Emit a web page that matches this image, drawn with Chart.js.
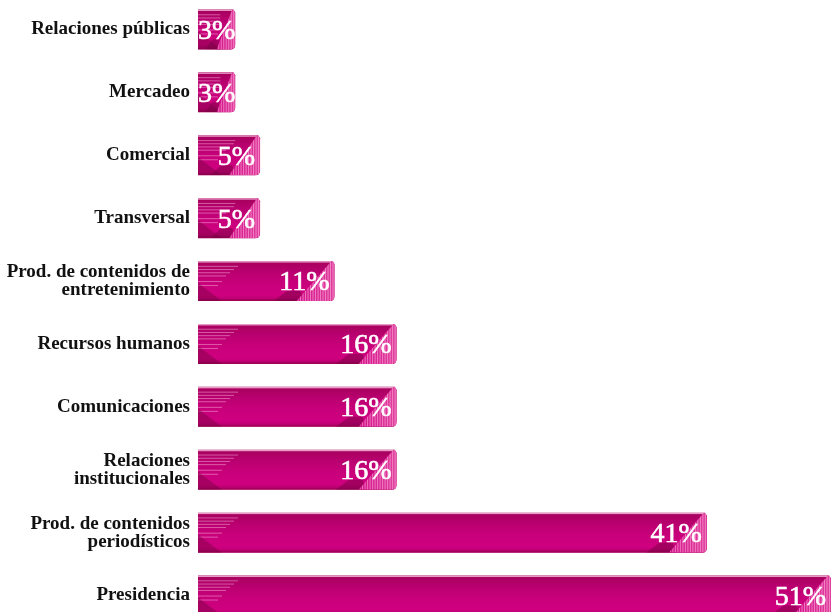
<!DOCTYPE html>
<html>
<head>
<meta charset="utf-8">
<script src="https://cdn.jsdelivr.net/npm/chart.js@4"></script>
<style>
  html, body { margin: 0; padding: 0; background: #fff; overflow: hidden; }
  #wrap { position: absolute; left: 0; top: -11px; width: 831px; height: 647px; }
</style>
</head>
<body>
<div id="wrap"><canvas id="areas"></canvas></div>
<script>
// Áreas y porcentaje
const areas = [
  "Relaciones públicas",
  "Mercadeo",
  "Comercial",
  "Transversal",
  ["Prod. de contenidos de", "entretenimiento"],
  "Recursos humanos",
  "Comunicaciones",
  ["Relaciones", "institucionales"],
  ["Prod. de contenidos", "periodísticos"],
  "Presidencia"
];
const porcentajes = [3, 3, 5, 5, 11, 16, 16, 16, 41, 51];

// Barra con textura de cinta doblada y etiqueta de valor
const cinta = {
  id: 'cinta',
  afterDatasetsDraw(chart) {
    const ctx = chart.ctx;
    const meta = chart.getDatasetMeta(0);
    meta.data.forEach((bar, i) => {
      const left = bar.base, right = bar.x;
      const h = bar.height, top = bar.y - h / 2, bottom = bar.y + h / 2;
      const w = right - left;
      ctx.save();

      // cuerpo con esquina inferior derecha redondeada
      ctx.beginPath();
      ctx.moveTo(left, top);
      ctx.lineTo(right - 2, top);
      ctx.lineTo(right, top + 3);
      ctx.lineTo(right, bottom - 5);
      ctx.quadraticCurveTo(right, bottom, right - 5, bottom);
      ctx.lineTo(left, bottom);
      ctx.closePath();
      const g = ctx.createLinearGradient(0, top, 0, bottom);
      g.addColorStop(0, '#a5005c');
      g.addColorStop(0.3, '#bb0071');
      g.addColorStop(0.55, '#c8007a');
      g.addColorStop(0.85, '#cf0080');
      g.addColorStop(1, '#b3006a');
      ctx.fillStyle = g;
      ctx.fill();
      ctx.clip();

      // filo superior claro
      ctx.fillStyle = 'rgba(240,170,210,0.9)';
      ctx.fillRect(left, top, w, 1.5);
      ctx.fillStyle = 'rgba(150,0,80,0.6)';
      ctx.fillRect(left, bottom - 2, w, 2);

      // rayas del extremo izquierdo
      ctx.fillStyle = 'rgba(255,200,230,0.45)';
      [0.12, 0.2, 0.28, 0.36, 0.5, 0.6].forEach((f, k) => {
        const len = Math.min(w * 0.6, 40 - k * 4);
        ctx.fillRect(left, top + h * f, len, 1);
      });

      // sombra inferior izquierda
      ctx.beginPath();
      ctx.moveTo(left, top + h * 0.55);
      ctx.lineTo(left + h * 0.6, bottom);
      ctx.lineTo(left, bottom);
      ctx.closePath();
      ctx.fillStyle = 'rgba(120,0,65,0.45)';
      ctx.fill();

      // pliegue del extremo derecho
      const fw = Math.min(h * 0.95, w * 0.5);
      const fx = right - fw;
      ctx.beginPath();
      ctx.moveTo(fx - fw * 0.6, bottom);
      ctx.lineTo(fx - fw * 0.25, bottom - h * 0.25);
      ctx.lineTo(fx + fw * 0.1, bottom - h * 0.25);
      ctx.lineTo(fx + fw * 0.2, bottom);
      ctx.closePath();
      ctx.fillStyle = 'rgba(120,0,65,0.5)';
      ctx.fill();

      ctx.beginPath();
      ctx.moveTo(right - 3, top);
      ctx.lineTo(right, top);
      ctx.lineTo(right, bottom);
      ctx.lineTo(fx, bottom);
      ctx.closePath();
      const gf = ctx.createLinearGradient(fx, 0, right, 0);
      gf.addColorStop(0, '#d4128a');
      gf.addColorStop(1, '#e0409e');
      ctx.fillStyle = gf;
      ctx.fill();
      ctx.clip();
      ctx.strokeStyle = 'rgba(255,190,225,0.55)';
      ctx.lineWidth = 1;
      for (let x = right - 1.5; x > fx; x -= 2.5) {
        ctx.beginPath();
        ctx.moveTo(x, top);
        ctx.lineTo(x, bottom);
        ctx.stroke();
      }
      ctx.restore();

      // valor, con un trazo fino para engrosar la letra
      ctx.save();
      ctx.fillStyle = '#ffffff';
      ctx.strokeStyle = '#ffffff';
      ctx.lineWidth = 0.6;
      ctx.font = '28px "Liberation Serif", serif';
      ctx.textAlign = 'right';
      ctx.textBaseline = 'middle';
      const txt = porcentajes[i] + '%';
      const tw = ctx.measureText(txt).width;
      const tx = Math.max(right - 5, left + tw);
      ctx.fillText(txt, tx, bar.y + 2);
      ctx.strokeText(txt, tx, bar.y + 2);
      ctx.restore();
    });
  }
};

new Chart(document.getElementById('areas'), {
  type: 'bar',
  data: {
    labels: areas,
    datasets: [{
      data: porcentajes,
      backgroundColor: 'rgba(0,0,0,0)',
      barThickness: 40
    }]
  },
  options: {
    indexAxis: 'y',
    responsive: true,
    maintainAspectRatio: false,
    animation: false,
    layout: { padding: 0 },
    plugins: { legend: { display: false }, tooltip: { enabled: false } },
    scales: {
      x: { display: false, min: 0, max: 51 },
      y: {
        grid: { display: false },
        border: { display: false },
        afterFit(axis) { axis.width = 198; },
        ticks: {
          color: '#111',
          padding: 0,
          font: { family: '"Liberation Serif", serif', size: 19, weight: 'bold', lineHeight: 0.95 }
        }
      }
    }
  },
  plugins: [cinta]
});
</script>
</body>
</html>
